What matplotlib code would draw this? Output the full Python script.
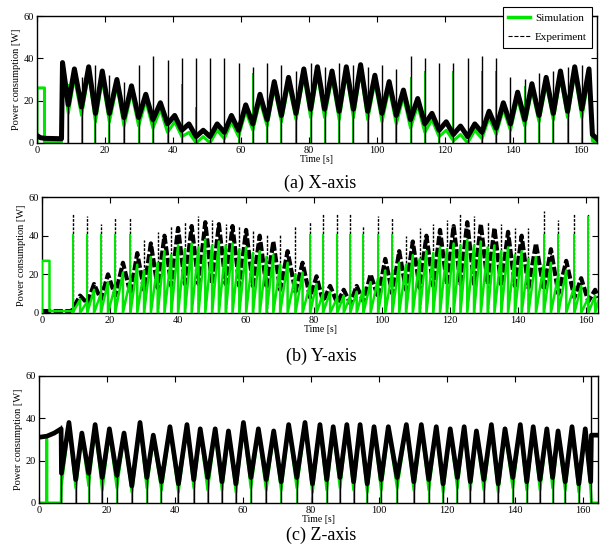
import numpy as np
import matplotlib
matplotlib.use('Agg')
import matplotlib.pyplot as plt
from matplotlib.lines import Line2D

plt.rcParams['font.family'] = ['Liberation Serif', 'DejaVu Serif']

GREEN = '#00e600'

# ---------- (a) X-axis ----------
a_pre_t = [0, 0, 1.0, 2.2, 2.2, 7.2]
a_pre_exp = [3.5, 3.5, 2.5, 2.2, 2.2, 2.0]
a_pre_sim = [0, 26, 26, 26, 0.5, 0.5]
a_peak_t = [7.5, 11.0, 15.2, 19.2, 23.5, 27.8, 32.0, 36.3, 40.5, 44.7, 48.9, 53.0, 57.2,
            61.4, 65.6, 69.8, 74.0, 78.5, 82.5, 86.8, 91.0, 95.2, 99.4, 103.6, 107.8, 112.0,
            116.2, 120.4, 124.6, 128.8, 133.0, 137.2, 141.4, 145.6, 149.8, 154.0, 158.2, 162.4]
a_peak_exp = [38, 35, 36, 34, 30, 27, 23, 19, 13, 9, 6, 9, 13, 18, 23, 29, 31, 35, 36, 34,
              36, 37, 32, 29, 25, 21, 14, 10, 8, 9, 15, 19, 24, 28, 31, 34, 36, 35]
a_peak_sim = [35, 31, 33, 30, 27, 24, 20, 16, 10, 5, 3, 6, 10, 15, 20, 26, 28, 32, 33, 31,
              33, 34, 29, 26, 22, 18, 11, 6, 4, 6, 12, 16, 21, 25, 28, 31, 33, 32]
a_low_t = [9.2, 13.1, 17.2, 21.3, 25.6, 29.9, 34.1, 38.4, 42.6, 46.8, 50.9, 55.1, 59.3,
           63.5, 67.7, 71.9, 76.2, 80.5, 84.6, 88.9, 93.1, 97.3, 101.5, 105.7, 109.9, 114.1,
           118.3, 122.5, 126.7, 130.9, 135.1, 139.3, 143.5, 147.7, 151.9, 156.1, 160.3]
a_low_exp = [18, 17, 14, 14, 12, 12, 11, 9, 6, 3, 3, 5, 6, 9, 11, 13, 14, 16, 16, 15,
             16, 15, 14, 13, 11, 9, 6, 4, 3, 5, 7, 9, 11, 13, 14, 15, 16]
a_low_sim = [14, 13, 10, 10, 8, 8, 7, 5, 3, 0, 0, 2, 3, 6, 8, 10, 11, 12, 12, 11,
             12, 11, 10, 9, 7, 5, 3, 1, 0, 2, 4, 6, 8, 10, 11, 12, 12]
a_spk_exp = [22, 31, 37, 32, 29, 37, 41, 39, 40, 40, 40, 40, 38, 36, 38, 37, 34, 38, 36, 38,
             37, 36, 37, 35, 41, 40, 38, 38, 40, 41, 40, 31, 30, 33, 34, 36, 37]
a_spk_sim = [28, 0, 0, 0, 0, 0, 0, 0, 28, 17, 0, 0, 0, 33, 0, 0, 0, 0, 0, 0,
             0, 0, 0, 0, 31, 34, 0, 34, 0, 34, 34, 0, 27, 0, 0, 0, 0]
a_end_t = [163.4, 164.7]
a_end_exp = [4, 2]
a_end_sim = [1, 0]

# ---------- (b) Y-axis ----------
b_pre_t = [0, 0, 2.2, 2.2, 8.9]
b_pre_exp = [1, 1, 1, 1, 1]
b_pre_sim = [0, 27, 27, 1, 1]
b_low_t = [9.0, 13.3, 17.3, 21.5, 26.0, 30.0, 34.0, 38.0, 42.0, 46.0, 50.0, 54.0, 58.0,
           62.0, 66.0, 70.0, 74.5, 78.8, 82.6, 86.8, 90.6, 94.5, 98.8, 103.0, 107.0, 111.0,
           115.0, 119.0, 123.0, 127.0, 131.0, 135.0, 139.0, 143.0, 147.5, 151.8, 156.5, 160.6]
b_low_exp = [2, 5, 7, 9, 10, 12, 13, 14, 15, 15, 15, 15, 14, 14, 13, 12, 11, 8, 6, 5,
             5, 6, 8, 10, 12, 13, 14, 15, 15, 15, 15, 14, 14, 13, 12, 10, 8, 6]
b_low_sim = [0, 6, 10, 14, 18, 22, 26, 30, 33, 34, 35, 35, 33, 31, 29, 25, 20, 15, 10, 8,
             9, 13, 18, 22, 25, 28, 31, 33, 35, 35, 34, 32, 30, 28, 25, 20, 14, 8]
b_spk_exp = [51, 50, 46, 49, 49, 38, 42, 45, 47, 50, 48, 46, 45, 43, 41, 41, 45, 47, 51, 52,
             52, 45, 50, 49, 40, 44, 46, 48, 52, 50, 47, 46, 44, 44, 53, 48, 51, 51]
b_spk_sim = [41, 41, 41, 41, 41, 0, 0, 0, 0, 0, 0, 0, 0, 0, 0, 0, 0, 41, 41, 41,
             41, 41, 41, 41, 0, 0, 0, 0, 0, 0, 0, 0, 0, 0, 41, 41, 41, 50]
b_peak_t = [11.2, 15.3, 19.4, 23.8, 28.0, 32.0, 36.0, 40.0, 44.0, 48.0, 52.0, 56.0, 60.0,
            64.0, 68.0, 72.2, 76.6, 80.7, 84.7, 88.7, 92.5, 96.6, 100.9, 105.0, 109.0, 113.0,
            117.0, 121.0, 125.0, 129.0, 133.0, 137.0, 141.0, 145.2, 149.6, 154.1, 158.5, 162.6]
b_peak_exp = [9, 15, 20, 26, 31, 36, 40, 44, 45, 47, 46, 45, 43, 40, 37, 32, 26, 19, 14, 12,
              14, 20, 28, 32, 37, 40, 43, 45, 47, 46, 44, 42, 40, 36, 33, 27, 18, 12]
b_peak_sim = [7, 12, 16, 21, 25, 29, 32, 35, 36, 38, 37, 36, 34, 32, 30, 26, 21, 15, 11, 9,
              11, 16, 22, 26, 30, 32, 34, 36, 38, 37, 35, 34, 32, 29, 26, 22, 14, 9]
b_end_t = [163.5]
b_end_exp = [8]
b_end_sim = [6]

# ---------- (c) Z-axis ----------
c_pre_t = [0, 2.3, 2.3, 2.3, 4.5, 6.5]
c_pre_exp = [31, 31.5, 31.5, 31.5, 33, 35]
c_pre_sim = [0, 0, 30, 0, 0, 0]
c_low_t = [6.6, 10.8, 14.6, 18.6, 22.9, 27.3, 31.7, 36.0, 41.0, 45.5, 49.6, 53.8, 57.9,
           62.3, 66.8, 71.2, 75.8, 80.4, 84.6, 88.5, 92.5, 96.5, 100.6, 105.3, 110.2, 114.6,
           118.8, 123.0, 126.8, 130.8, 135.0, 139.3, 143.4, 147.3, 151.0, 154.7, 158.7, 162.2]
c_low_exp = [14, 11, 14, 12, 13, 8, 12, 10, 9, 11, 12, 10, 9, 12, 11, 10, 12, 9, 11, 12,
             10, 9, 11, 12, 10, 11, 9, 12, 10, 11, 9, 12, 10, 11, 12, 10, 9, 10]
c_low_sim = [8, 7, 8, 6, 7, 5, 7, 6, 5, 7, 6, 6, 5, 7, 6, 6, 7, 5, 6, 7,
             6, 5, 6, 7, 6, 6, 5, 7, 6, 6, 5, 7, 6, 6, 7, 6, 5, 6]
c_spk_exp = [37, 0, 0, 0, 0, 0, 0, 0, 0, 0, 0, 0, 0, 0, 0, 0, 0, 0, 0, 0,
             0, 0, 0, 0, 0, 0, 0, 0, 0, 0, 0, 0, 0, 0, 0, 0, 0, 60]
c_spk_sim = [33, 0, 0, 0, 0, 0, 0, 0, 0, 0, 0, 0, 0, 0, 0, 0, 0, 0, 0, 0,
             0, 0, 0, 0, 0, 0, 0, 0, 0, 0, 0, 0, 0, 0, 0, 0, 0, 0]
c_peak_t = [8.8, 12.6, 16.5, 20.7, 25.0, 29.7, 33.6, 38.5, 43.5, 47.4, 51.8, 55.7, 60.1,
            64.5, 69.0, 73.4, 78.2, 82.6, 86.5, 90.5, 94.4, 98.5, 102.7, 108.0, 112.4, 116.8,
            120.9, 125.0, 128.6, 133.0, 137.0, 141.5, 145.3, 149.3, 152.6, 156.7, 160.6]
c_peak_exp = [38, 33, 37, 35, 33, 38, 32, 36, 37, 35, 35, 34, 38, 35, 34, 37, 38, 37, 36, 37,
              37, 36, 36, 37, 37, 36, 35, 36, 34, 37, 35, 37, 36, 35, 34, 36, 35]
c_peak_sim = [37, 32, 36, 34, 32, 37, 31, 35, 36, 34, 34, 33, 37, 34, 33, 36, 37, 36, 35, 36,
              36, 35, 35, 36, 36, 35, 34, 35, 33, 36, 34, 36, 35, 34, 33, 35, 34]
c_end_t = [162.4, 164.4]
c_end_exp = [32, 32]
c_end_sim = [0, 0]


def join(ts, vs):
    # put prefix, peaks, troughs and tail in time order
    t = np.concatenate([np.asarray(x, float) for x in ts])
    v = np.concatenate([np.asarray(x, float) for x in vs])
    o = np.argsort(t, kind='stable')
    return t[o], v[o]


def style(ax, xmax):
    ax.set_xlim(0, xmax)
    ax.set_ylim(0, 60)
    ax.set_xticks(range(0, 161, 20))
    ax.set_yticks([0, 20, 40, 60])
    ax.tick_params(direction='in', top=True, right=True, length=4, width=0.8,
                   labelsize=7.5, pad=2)
    ax.set_xlabel('Time [s]', fontsize=7, labelpad=0)
    ax.set_ylabel('Power consumption [W]', fontsize=7.5, labelpad=2)
    for s in ax.spines.values():
        s.set_linewidth(1)


fig = plt.figure(figsize=(6, 5.52), dpi=100)

# (a)
ax1 = fig.add_axes([0.0617, 0.741, 0.933, 0.230])
t, v = join([a_pre_t, a_peak_t, a_low_t, a_end_t], [a_pre_sim, a_peak_sim, a_low_sim, a_end_sim])
ax1.plot(t, v, color=GREEN, lw=2.2, zorder=2)
ax1.vlines(a_low_t, 0, np.maximum(a_low_sim, a_spk_sim), color=GREEN, lw=1.4, zorder=2)
ax1.vlines(a_low_t, 0, np.maximum(a_low_exp, a_spk_exp), color='k', lw=1.0, zorder=3)
t, v = join([a_pre_t, a_peak_t, a_low_t, a_end_t], [a_pre_exp, a_peak_exp, a_low_exp, a_end_exp])
ax1.plot(t, v, color='k', lw=3.6, zorder=4)
style(ax1, 164.7)

handles = [Line2D([], [], color=GREEN, lw=2.5),
           Line2D([], [], color='k', lw=0.8, ls='--')]
leg = ax1.legend(handles, ['Simulation', 'Experiment'], loc='upper right',
                 bbox_to_anchor=(0.987, 0.987), bbox_transform=fig.transFigure,
                 fontsize=8, fancybox=False, edgecolor='k', framealpha=1,
                 borderaxespad=0, handlelength=2.0, borderpad=0.5,
                 labelspacing=0.9, handletextpad=0.4)
leg.get_frame().set_linewidth(0.8)
leg.set_zorder(10)

# (b)
ax2 = fig.add_axes([0.07, 0.433, 0.927, 0.210])
t, v = join([b_pre_t, b_peak_t, b_low_t, b_end_t], [b_pre_exp, b_peak_exp, b_low_exp, b_end_exp])
ax2.plot(t, v, color='k', lw=3.0, dashes=(2.2, 0.6), zorder=2)
ax2.vlines(b_low_t, 0, np.maximum(b_low_exp, b_spk_exp), color='k', lw=1.0,
           linestyles=(0, (2, 1)), zorder=2)
# simulation: sawtooth ramps, each ending with a drop to zero
tm, vm = join([b_peak_t, b_low_t], [b_peak_sim, b_low_sim])
st = np.concatenate([b_pre_t, np.repeat(tm, 2), b_end_t])
sv = np.concatenate([b_pre_sim, np.column_stack([vm, np.zeros_like(vm)]).ravel(), b_end_sim])
ax2.plot(st, sv, color=GREEN, lw=1.8, zorder=3)
ax2.vlines(b_low_t, 0, b_spk_sim, color=GREEN, lw=1.4, zorder=3)
style(ax2, 163.5)

# (c)
ax3 = fig.add_axes([0.065, 0.089, 0.932, 0.230])
t, v = join([c_pre_t, c_peak_t, c_low_t, c_end_t], [c_pre_sim, c_peak_sim, c_low_sim, c_end_sim])
ax3.plot(t, v, color=GREEN, lw=2, zorder=2)
ax3.vlines(c_low_t, 0, np.maximum(c_low_sim, c_spk_sim), color=GREEN, lw=1.3, zorder=2)
ax3.vlines(c_low_t, 0, np.maximum(c_low_exp, c_spk_exp), color='k', lw=1.0, zorder=3)
t, v = join([c_pre_t, c_peak_t, c_low_t, c_end_t], [c_pre_exp, c_peak_exp, c_low_exp, c_end_exp])
ax3.plot(t, v, color='k', lw=3.4, zorder=4)
style(ax3, 164.4)

fig.text(0.533, 0.668, '(a) X-axis', ha='center', va='center', fontsize=13)
fig.text(0.535, 0.355, '(b) Y-axis', ha='center', va='center', fontsize=13)
fig.text(0.535, 0.030, '(c) Z-axis', ha='center', va='center', fontsize=13)

fig.savefig('out.png', dpi=100)
